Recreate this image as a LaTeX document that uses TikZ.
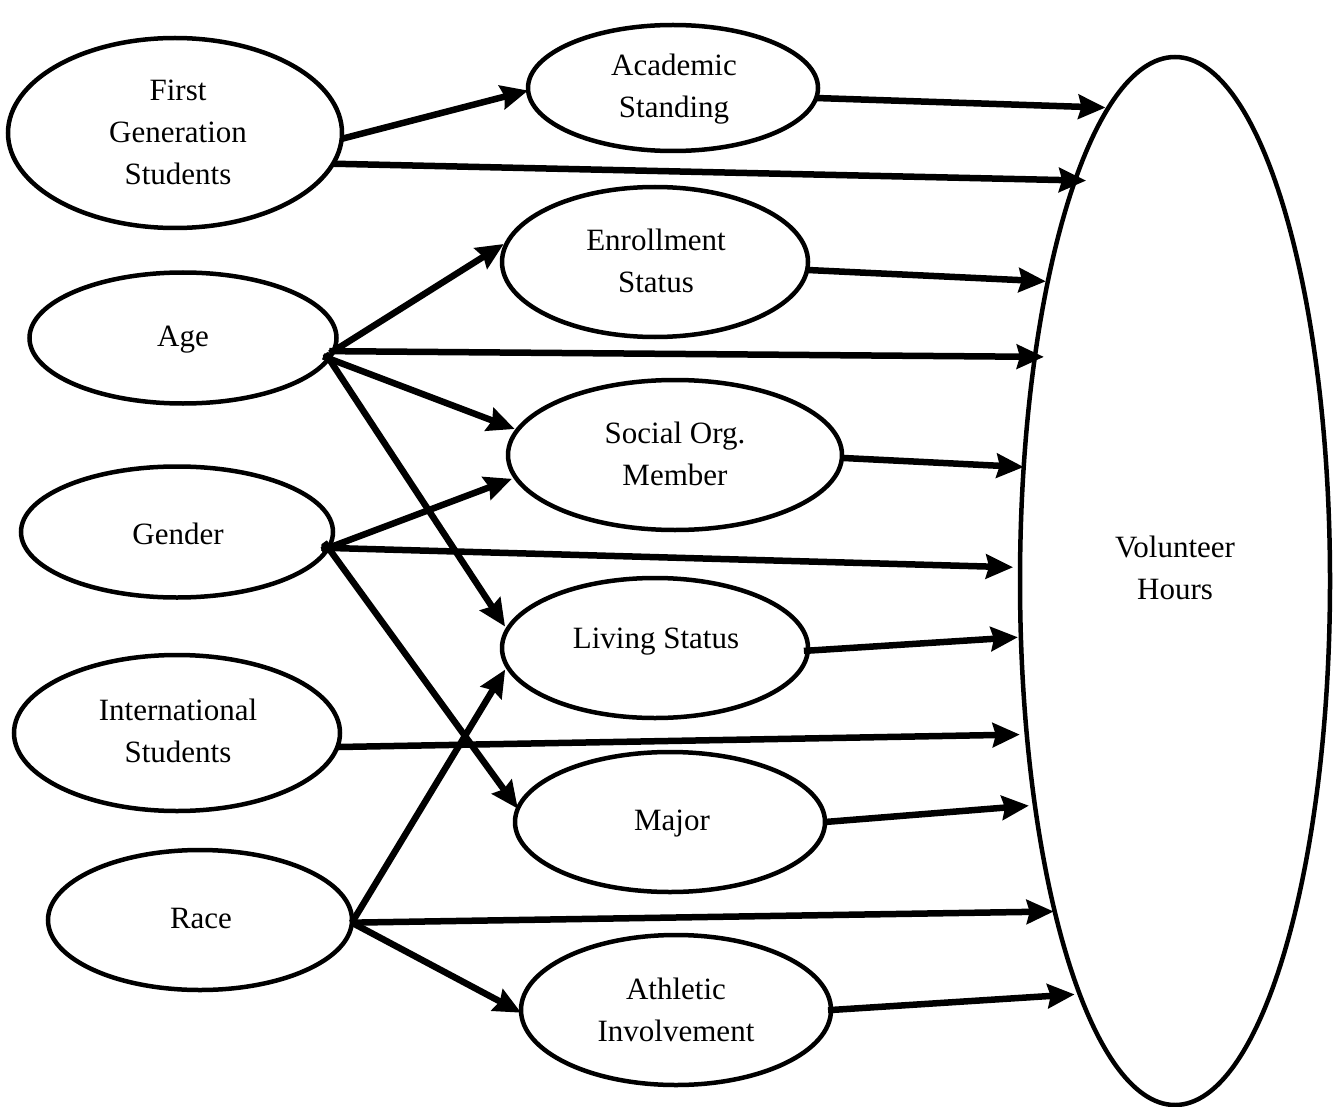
\documentclass[tikz,border=0pt]{standalone}
\usepackage{fontspec}
\setmainfont{Liberation Serif}
\usetikzlibrary{shapes.geometric,arrows.meta}
\begin{document}
\begin{tikzpicture}[x=1pt,y=-1pt,
  ell/.style={ellipse,draw,line width=4.5pt,inner sep=0pt,outer sep=0pt},
  txt/.style={align=center,font=\fontsize{31}{42}\selectfont,inner sep=0pt},
  arr/.style={line width=6.5pt,-{Stealth[length=27pt,width=24pt,inset=3pt]}}]
\useasboundingbox (0,0) rectangle (1335,1107);
% ellipses
\node[ell,minimum width=334pt,minimum height=190pt] (fgs) at (175,133) {};
\node[ell,minimum width=307pt,minimum height=131pt] (age) at (183,338) {};
\node[ell,minimum width=312pt,minimum height=131pt] (gen) at (177,532) {};
\node[ell,minimum width=326pt,minimum height=156pt] (intl) at (177,733) {};
\node[ell,minimum width=304pt,minimum height=140pt] (race) at (200,920) {};
\node[ell,minimum width=290pt,minimum height=126pt] (acad) at (673,88) {};
\node[ell,minimum width=306pt,minimum height=150pt] (enr) at (655,262) {};
\node[ell,minimum width=334pt,minimum height=150pt] (soc) at (675,455) {};
\node[ell,minimum width=306pt,minimum height=140pt] (liv) at (655,648) {};
\node[ell,minimum width=310pt,minimum height=140pt] (maj) at (670,822) {};
\node[ell,minimum width=310pt,minimum height=150pt] (ath) at (676,1010) {};
\node[ell,minimum width=310pt,minimum height=1048pt] (vh) at (1175,581) {};
% texts
\node[txt] (tfgs) at (178,132.5) {First\\Generation\\Students};
\node[txt] (tage) at (183,340) {Age};
\node[txt] (tgen) at (178,534) {Gender};
\node[txt] (tintl) at (178,731) {International\\Students};
\node[txt] (trace) at (201,918) {Race};
\node[txt] (tacad) at (674,89) {Academic\\Standing};
\node[txt] (tenr) at (656,261) {Enrollment\\Status};
\node[txt] (tsoc) at (675,454) {Social Org.\\Member};
\node[txt] (tliv) at (656,642) {Living Status};
\node[txt] (tmaj) at (672,824) {Major};
\node[txt] (tath) at (676,1010) {Athletic\\Involvement};
\node[txt] (tvh) at (1175,568) {Volunteer\\Hours};
% arrows
\draw[arr] (fgs.-2.4) -- (acad.181.6);
\draw[arr,shorten >=-11pt] (fgs.-11.9) -- (vh.104);
\draw[arr,shorten >=3pt] (acad.-4.8) -- (vh.98.7);
\draw[arr,shorten >=5pt,shorten <=-4pt] (age.-5) -- (enr.172.7);
\draw[arr,shorten >=-9pt,shorten <=-4pt] (age.-5) -- (vh.122.5);
\draw[arr,shorten >=3pt,shorten <=-6pt] (age.-8) -- (soc.171.8);
\draw[arr,shorten >=4pt,shorten <=-6pt] (age.-8) -- (liv.173.1);
\draw[arr,shorten >=2pt] (enr.-3.8) -- (vh.113.2);
\draw[arr,shorten >=4pt,shorten <=-7pt] (gen.-6.6) -- (soc.188.2);
\draw[arr,shorten >=7pt,shorten <=-7pt] (gen.-6.6) -- (vh.175.2);
\draw[arr,shorten <=-7pt] (gen.-6.6) -- (maj.175.5);
\draw[arr] (soc.-1.7) -- (vh.143);
\draw[arr,shorten >=3pt,shorten <=-4pt] (liv.-1) -- (vh.200.6);
\draw[arr,shorten >=7pt] (intl.-5.4) -- (vh.226.7);
\draw[arr,shorten >=6pt] (maj.0) -- (vh.238.9);
\draw[arr,shorten >=1pt] (race.-1) -- (vh.250.5);
\draw[arr,shorten >=4pt] (race.-1) -- (liv.187.8);
\draw[arr] (race.-1) -- (ath.181);
\draw[arr,shorten >=5pt,shorten <=-3pt] (ath.0) -- (vh.257.1);
\end{tikzpicture}
\end{document}
